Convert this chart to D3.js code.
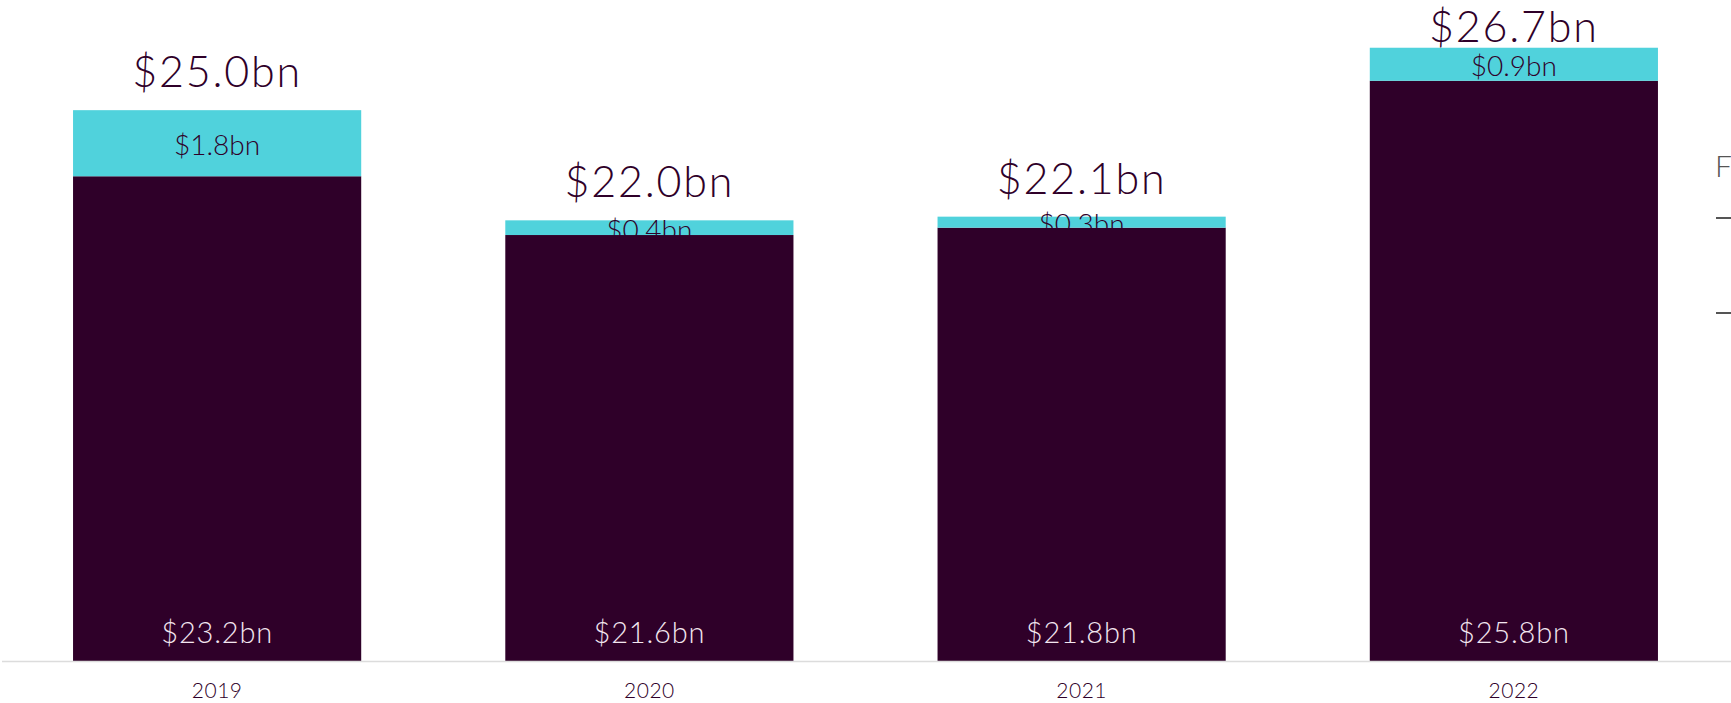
<!DOCTYPE html>
<html><head><meta charset="utf-8">
<script src="https://cdn.jsdelivr.net/npm/d3@7"></script>
<style>
html,body{margin:0;padding:0;background:#fff;overflow:hidden}
text{font-family:Lato,"Open Sans",sans-serif;font-weight:300}
</style></head>
<body><svg id="c" width="1731" height="703"></svg>
<script>
const years = ["2019","2020","2021","2022"];
const baseValues = [23.2, 21.6, 21.8, 25.8];
const topValues = [1.8, 0.4, 0.3, 0.9];
const totalValues = [25.0, 22.0, 22.1, 26.7];
const legendTitle = "F";

const svg = d3.select("#c");
const dark = "#2f0029", cyan = "#50d2dc", light = "#f3e6f0";

const x = d3.scaleBand().domain(years).range([1, 1730]).paddingInner(1/3).paddingOuter(1/6);
const y = d3.scaleLinear().domain([10, 28]).range([661, 0]);
const fmt = v => "$" + d3.format(".1f")(v) + "bn";

const data = years.map((yr, i) => ({yr, base: baseValues[i], top: topValues[i], total: totalValues[i]}));

svg.selectAll("rect.base").data(data).join("rect").attr("class","base")
  .attr("x", d => x(d.yr)).attr("width", x.bandwidth())
  .attr("y", d => y(d.base)).attr("height", d => y(10) - y(d.base))
  .attr("fill", dark);
svg.selectAll("rect.top").data(data).join("rect").attr("class","top")
  .attr("x", d => x(d.yr)).attr("width", x.bandwidth())
  .attr("y", d => y(d.base + d.top)).attr("height", d => y(d.base) - y(d.base + d.top))
  .attr("fill", cyan);

const ax = svg.append("g").attr("transform", `translate(0,${y(10)})`)
  .call(d3.axisBottom(x).tickSize(0).tickPadding(22));
ax.select(".domain").attr("stroke", "#dcdcdc").attr("stroke-width", 1.5).attr("d", "M2,0.5H1731");
ax.selectAll("text").attr("font-size", 21).attr("fill", dark)
  .attr("font-family", "Lato, sans-serif").attr("font-weight", 400).attr("letter-spacing", 0.5);

const cx = d => x(d.yr) + x.bandwidth()/2;
svg.selectAll("text.bl").data(data).join("text").attr("class","bl")
  .attr("x", cx).attr("y", y(10) - 18).attr("text-anchor","middle")
  .attr("font-size", 29).attr("letter-spacing", 0.8).attr("fill", light).text(d => fmt(d.base));
svg.selectAll("text.tl").data(data).join("text").attr("class","tl")
  .attr("x", cx).attr("y", d => (y(d.base) + y(d.base + d.top))/2 + 12).attr("text-anchor","middle")
  .attr("font-size", 28).attr("fill", dark).text(d => fmt(d.top));
svg.selectAll("text.tt").data(data).join("text").attr("class","tt")
  .attr("x", cx).attr("y", d => Math.max(y(d.total) - 23, 42)).attr("text-anchor","middle")
  .attr("font-size", 43).attr("letter-spacing", 1.8).attr("fill", dark).text(d => fmt(d.total));

svg.append("text").attr("x", 1715).attr("y", 177).attr("font-size", 30).attr("fill", "#555").text(legendTitle);
[218, 313].forEach(yy => svg.append("line").attr("x1", 1716).attr("x2", 1731).attr("y1", yy).attr("y2", yy)
  .attr("stroke", "#555").attr("stroke-width", 2));
</script></body></html>
